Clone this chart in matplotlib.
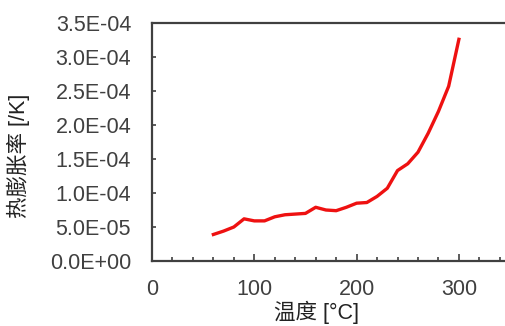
import matplotlib
matplotlib.use("Agg")
import matplotlib.pyplot as plt
from matplotlib.ticker import MultipleLocator, FuncFormatter

plt.rcParams['font.family'] = ['Liberation Sans', 'Noto Sans CJK SC']

# data
temp = [60, 70, 80, 90, 100, 110, 120, 130, 140, 150, 160, 170, 180,
        190, 200, 210, 220, 230, 240, 250, 260, 270, 280, 290, 300]
expansion = [3.9e-5, 4.4e-5, 5.0e-5, 6.2e-5, 5.9e-5, 5.9e-5, 6.5e-5, 6.8e-5,
             6.9e-5, 7.0e-5, 7.9e-5, 7.5e-5, 7.4e-5, 7.9e-5, 8.5e-5, 8.6e-5,
             9.5e-5, 1.07e-4, 1.33e-4, 1.43e-4, 1.60e-4, 1.88e-4, 2.20e-4,
             2.57e-4, 3.26e-4]

grey = '#404040'

fig = plt.figure(figsize=(5.05, 3.26), dpi=100)
ax = fig.add_axes([152/505, 1-261/326, 1-152/505+0.01, (261-23)/326])

ax.plot(temp, expansion, color='#ee1111', lw=2.4)

ax.set_xlim(0, 350)
ax.set_ylim(0, 3.5e-4)
ax.xaxis.set_major_locator(MultipleLocator(100))
ax.xaxis.set_minor_locator(MultipleLocator(20))
ax.yaxis.set_major_locator(MultipleLocator(0.5e-4))
ax.yaxis.set_major_formatter(FuncFormatter(lambda v, p: f"{v:.1E}"))

ax.tick_params(axis='both', which='both', direction='in', colors=grey,
               labelsize=15.5, width=1.2)
ax.tick_params(axis='x', which='major', length=5, pad=13)
ax.tick_params(axis='x', which='minor', length=3)
ax.tick_params(axis='y', which='major', length=3, pad=15)

for s in ax.spines.values():
    s.set_color(grey)
    s.set_linewidth(1.6)

ax.set_xlabel('温度 [°C]', fontsize=15.5, color='#222222')
ax.set_ylabel('热膨胀率 [/K]', fontsize=15.5, color='#222222')
ax.xaxis.set_label_coords(0.46, -0.165)
ax.yaxis.set_label_coords(-0.34, 0.44)

fig.savefig('out.png', dpi=100)
